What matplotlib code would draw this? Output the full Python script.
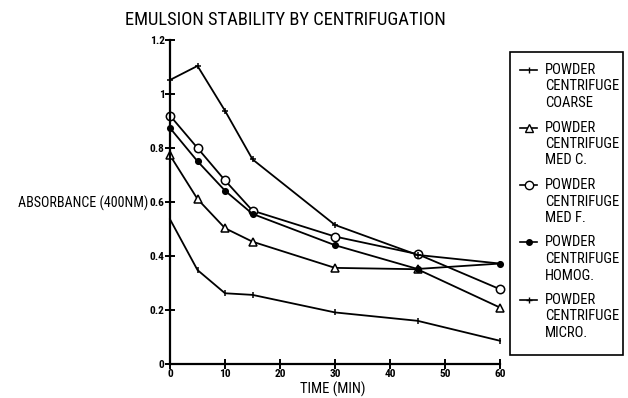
import matplotlib
matplotlib.use("Agg")
import matplotlib.pyplot as plt
from matplotlib import font_manager
from matplotlib.lines import Line2D
from matplotlib.patches import Rectangle

# Sampling times (min)
time_min = [0, 5, 10, 15, 30, 45, 60]

# Absorbance at 400 nm for each powder grade
coarse = [0.536, 0.348, 0.262, 0.256, 0.191, 0.160, 0.086]
med_c = [0.773, 0.611, 0.503, 0.453, 0.356, 0.351, 0.209]
med_f = [0.920, 0.800, 0.680, 0.568, 0.472, 0.407, 0.277]
homog = [0.874, 0.751, 0.642, 0.556, 0.440, 0.352, 0.372]
micro = [1.052, 1.104, 0.938, 0.758, 0.515, 0.404, 0.372]

series = [coarse, med_c, med_f, homog, micro]
labels = [["POWDER", "CENTRIFUGE", "COARSE"],
          ["POWDER", "CENTRIFUGE", "MED C."],
          ["POWDER", "CENTRIFUGE", "MED F."],
          ["POWDER", "CENTRIFUGE", "HOMOG."],
          ["POWDER", "CENTRIFUGE", "MICRO."]]
markers = [dict(marker="|", ms=4, mfc="black"),
           dict(marker="^", ms=6, mfc="white"),
           dict(marker="o", ms=6, mfc="white"),
           dict(marker="o", ms=4, mfc="black"),
           dict(marker="+", ms=5, mfc="black")]

x_ticks = [0, 10, 20, 30, 40, 50, 60]
y_ticks = [0, 0.2, 0.4, 0.6, 0.8, 1.0, 1.2]
y_tick_labels = ["0", "0.2", "0.4", "0.6", "0.8", "1", "1.2"]


def pick_family():
    names = {f.name for f in font_manager.fontManager.ttflist}
    for cand in ["Liberation Sans Narrow", "DejaVu Sans Condensed",
                 "Roboto Condensed", "Open Sans Condensed"]:
        if cand in names:
            return cand, "normal"
    return "DejaVu Sans", "condensed"


FAMILY, STRETCH = pick_family()
plt.rcParams["font.family"] = [FAMILY, "DejaVu Sans"]
plt.rcParams["font.stretch"] = STRETCH

W, H = 628, 398
fig = plt.figure(figsize=(W / 100, H / 100), dpi=100)
fig.patch.set_facecolor("white")

x0, x1, y0, y1 = 170, 500, 364, 40
ax = fig.add_axes([x0 / W, (H - y0) / H, (x1 - x0) / W, (y0 - y1) / H])
ax.set_xlim(0, 60)
ax.set_ylim(0, 1.2)
for s in ["top", "right"]:
    ax.spines[s].set_visible(False)
for s in ["left", "bottom"]:
    ax.spines[s].set_linewidth(1.6)

ax.set_xticks(x_ticks)
ax.set_xticklabels([str(t) for t in x_ticks])
ax.set_yticks(y_ticks)
ax.set_yticklabels(y_tick_labels)
ax.tick_params(direction="inout", length=7, width=1.4, labelsize=8.2, pad=0.3)
for lab in ax.get_xticklabels() + ax.get_yticklabels():
    lab.set_fontweight("bold")

for vals, mk in zip(series, markers):
    ax.plot(time_min, vals, color="black", lw=1.3, mec="black", mew=1.1,
            clip_on=False, **mk)

fig.text(285 / W, 1 - 20 / H, "EMULSION STABILITY BY CENTRIFUGATION",
         ha="center", va="center", fontsize=13.3)
fig.text(333 / W, 1 - 389 / H, "TIME (MIN)", ha="center", va="center",
         fontsize=10.5)
fig.text(18 / W, 1 - 203 / H, "ABSORBANCE (400NM)", ha="left", va="center",
         fontsize=10.1)

# Legend box with the handle beside the first line of each label
fig.add_artist(Rectangle((510 / W, 1 - 355 / H), 113 / W, 303 / H,
                         transform=fig.transFigure, fill=False,
                         lw=1.2, ec="black"))
for i, (lines, mk) in enumerate(zip(labels, markers)):
    yc = 70 + 57.5 * i
    yy = 1 - yc / H
    fig.add_artist(Line2D([520 / W, 537 / W], [yy, yy],
                          transform=fig.transFigure, color="black", lw=1.2))
    fig.add_artist(Line2D([528.5 / W], [yy], transform=fig.transFigure,
                          color="black", mec="black", mew=1.0,
                          ls="none", **mk))
    for k, txt in enumerate(lines):
        fig.text(545 / W, 1 - (yc + 16.5 * k) / H, txt, ha="left",
                 va="center", fontsize=10.5)

fig.savefig("out.png", dpi=100)
